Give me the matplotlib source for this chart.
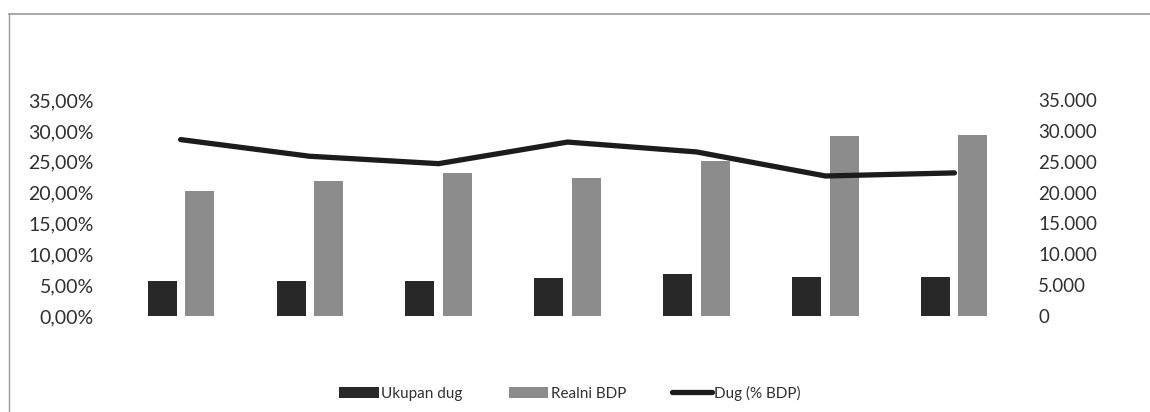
import numpy as np
import matplotlib
matplotlib.use("Agg")
import matplotlib.pyplot as plt
from matplotlib.ticker import FuncFormatter
from matplotlib.lines import Line2D

plt.rcParams['font.family'] = ['Lato', 'DejaVu Sans']

# data
years = ["1", "2", "3", "4", "5", "6", "7"]
ukupan_dug = [5700, 5600, 5600, 6200, 6800, 6300, 6400]
realni_bdp = [20300, 21900, 23200, 22400, 25100, 29200, 29400]
dug_bdp = [28.6, 25.9, 24.7, 28.2, 26.6, 22.7, 23.2]

left_ticks = [0, 5, 10, 15, 20, 25, 30, 35]
right_ticks = [0, 5000, 10000, 15000, 20000, 25000, 30000, 35000]

fig = plt.figure(figsize=(11.5, 4.12), dpi=100)
ax = fig.add_axes([0.101, 0.233, 0.785, 0.524])
ax2 = ax.twinx()

x = np.arange(len(years))
w = 0.225
off = 0.144

# bars on the right axis
ax2.bar(x - off, ukupan_dug, w, color="#282828", label="Ukupan dug")
ax2.bar(x + off, realni_bdp, w, color="#8c8c8c", label="Realni BDP")
# line on the left axis
ax.plot(x, dug_bdp, color="#1c1c1c", lw=3.8, label="Dug (% BDP)",
        solid_capstyle="round", zorder=5)
ax.set_zorder(ax2.get_zorder() + 1)
ax.patch.set_visible(False)

ax.set_xlim(-0.5, len(years) - 0.5)
ax.set_ylim(0, 35)
ax2.set_ylim(0, 35000)
ax.set_yticks(left_ticks)
ax2.set_yticks(right_ticks)
ax.yaxis.set_major_formatter(FuncFormatter(lambda v, p: f"{v:.2f}%".replace(".", ",")))
ax2.yaxis.set_major_formatter(FuncFormatter(lambda v, p: f"{int(v):,}".replace(",", ".")))
ax.set_xticks([])

for a in (ax, ax2):
    for s in a.spines.values():
        s.set_visible(False)
ax.tick_params(axis="y", length=0, pad=16, labelsize=14, labelcolor="#303030")
ax2.tick_params(axis="y", length=0, pad=14, labelsize=13.5, labelcolor="#303030")

# legend
h1, l1 = ax2.get_legend_handles_labels()
h2, l2 = ax.get_legend_handles_labels()
fig.legend(h1 + h2, l1 + l2, loc="center", bbox_to_anchor=(570 / 1150, 1 - 393 / 412),
           ncol=3, frameon=False, fontsize=11, handlelength=2.6, handleheight=0.7,
           handletextpad=0.15, columnspacing=3.0, labelcolor="#303030")

# chart border (scanned frame, only top and left visible)
fig.add_artist(Line2D([9 / 1150, 1], [1 - 14 / 412, 1 - 14 / 412], color="#9a9a9a", lw=1.2,
                      transform=fig.transFigure))
fig.add_artist(Line2D([9 / 1150, 9 / 1150], [0, 1 - 14 / 412], color="#9a9a9a", lw=1.0,
                      transform=fig.transFigure))

fig.savefig("out.png", dpi=100)
